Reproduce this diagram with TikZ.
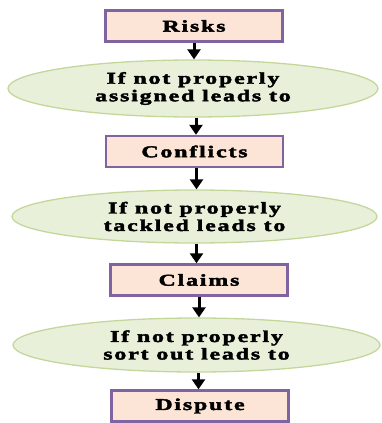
\documentclass[tikz,border=0pt]{standalone}
\usepackage{fontspec}
\usetikzlibrary{shapes.geometric,arrows.meta}
\newfontfamily\flowfont{Liberation Serif}[FakeStretch=1.45,LetterSpace=11,FakeBold=2.5]
\definecolor{boxfill}{RGB}{252,228,214}
\definecolor{boxline}{RGB}{128,100,162}
\definecolor{ovalfill}{RGB}{233,240,218}
\definecolor{ovalline}{RGB}{196,215,155}
\tikzset{
  stagebox/.style={draw=boxline, line width=2.4pt, fill=boxfill, inner sep=0pt,
    minimum width=177pt, minimum height=31pt,
    font=\flowfont\bfseries\fontsize{16.5}{17.5}\selectfont},
  condoval/.style={ellipse, draw=ovalline, line width=1.3pt, fill=ovalfill,
    inner sep=0pt, minimum width=367pt, minimum height=55pt, align=center,
    font=\flowfont\bfseries\fontsize{16.5}{17.5}\selectfont},
  flowarrow/.style={line width=3pt, -{Triangle[length=10pt,width=13pt]}}
}
\begin{document}
\begin{tikzpicture}[x=1pt,y=-1pt]
  \useasboundingbox (0,0) rectangle (382,423);
  \node[stagebox] (risks) at (194,26) {Risks};
  \node[condoval, minimum width=370pt, minimum height=57pt] (assigned) at (193,88.5)
    {If not properly\\assigned leads to};
  \node[stagebox] (conflicts) at (194.5,151.5) {Conflicts};
  \node[condoval, minimum width=365pt, minimum height=53pt] (tackled) at (194.5,216.5)
    {If not properly\\tackled leads to};
  \node[stagebox] (claims) at (199,280) {Claims};
  \node[condoval, minimum width=367pt, minimum height=54pt] (sortout) at (196.5,345)
    {If not properly\\sort out leads to};
  \node[stagebox] (dispute) at (200,406) {Dispute};

  \draw[flowarrow] (risks.south) -- (risks.south |- assigned.north);
  \draw[flowarrow] ([xshift=3pt]assigned.south) -- ([xshift=3pt]assigned.south |- conflicts.north);
  \draw[flowarrow] ([xshift=2pt]conflicts.south) -- ([xshift=2pt]conflicts.south |- tackled.north);
  \draw[flowarrow] ([xshift=2pt]tackled.south) -- ([xshift=2pt]tackled.south |- claims.north);
  \draw[flowarrow] (claims.south) -- (claims.south |- sortout.north);
  \draw[flowarrow] ([xshift=2pt]sortout.south) -- ([xshift=2pt]sortout.south |- dispute.north);
\end{tikzpicture}
\end{document}
